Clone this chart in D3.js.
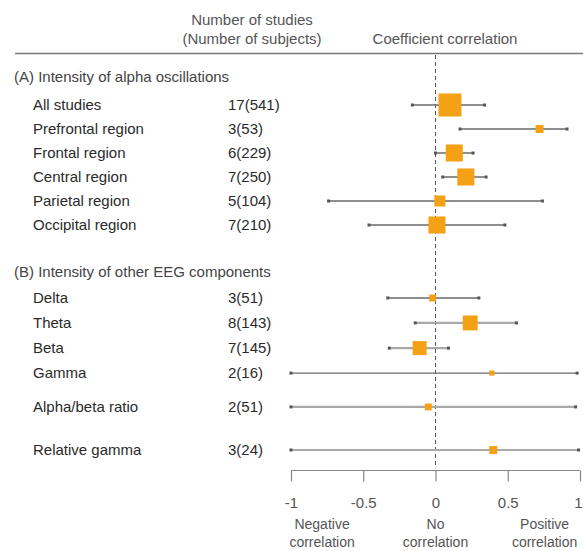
<!DOCTYPE html>
<html>
<head>
<meta charset="utf-8">
<script src="https://cdn.jsdelivr.net/npm/d3@7"></script>
<style>
  html, body { margin: 0; padding: 0; background: #fff; }
  svg text { font-family: "Liberation Sans", Arial, Helvetica, sans-serif; }
</style>
</head>
<body>
<svg id="chart" width="583" height="551"></svg>
<script>
// ---- data ----
const sections = ["(A) Intensity of alpha oscillations", "(B) Intensity of other EEG components"];
const labels = ["All studies", "Prefrontal region", "Frontal region", "Central region", "Parietal region", "Occipital region",
                "Delta", "Theta", "Beta", "Gamma", "Alpha/beta ratio", "Relative gamma"];
const sectionOf = [0, 0, 0, 0, 0, 0, 1, 1, 1, 1, 1, 1];
const studies  = [17, 3, 6, 7, 5, 7, 3, 8, 7, 2, 2, 3];
const subjects = [541, 53, 229, 250, 104, 210, 51, 143, 145, 16, 51, 24];
const estimate = [0.10, 0.72, 0.13, 0.21, 0.03, 0.01, -0.02, 0.24, -0.11, 0.39, -0.05, 0.40];
const lower    = [-0.16, 0.17, 0.00, 0.05, -0.74, -0.46, -0.33, -0.14, -0.32, -1.00, -1.00, -1.00];
const upper    = [0.34, 0.91, 0.26, 0.35, 0.74, 0.48, 0.30, 0.56, 0.09, 0.98, 0.97, 0.99];
const weight   = [100, 12, 55, 55, 23, 55, 9, 42, 37, 5, 9, 12];
const xTicks = [-1, -0.5, 0, 0.5, 1];
const xTickLabels = ["-1", "-0.5", "0", "0.5", "1"];
const zoneLabels = [["Negative", "correlation"], ["No", "correlation"], ["Positive", "correlation"]];
const zoneAt = [-0.785, 0, 0.755];

// ---- layout ----
const W = 583, H = 551;
const svg = d3.select("#chart");
const ORANGE = "#f4a116";
const TEXT = "#444";
const FS = 15;

// vertical slots (in row units) for section headings and rows
const sectionSlots = [-1.17, 6.96];
const rowSlots = [0, 1, 2, 3, 4, 5, 8.04, 9.08, 10.13, 11.17, 12.58, 14.375];
const y = d3.scaleLinear().domain([0, 1]).range([105, 129]);
const x = d3.scaleLinear().domain([-1, 1]).range([291, 580]);
const side = d3.scaleSqrt().domain([0, 100]).range([0, 23]);

const axisY = 470.5;

// column headers
const hdr = svg.append("g").attr("fill", "#555").attr("font-size", FS);
hdr.append("text").attr("x", 252).attr("y", 25).attr("text-anchor", "middle").text("Number of studies");
hdr.append("text").attr("x", 252).attr("y", 44).attr("text-anchor", "middle").text("(Number of subjects)");
hdr.append("text").attr("x", 445).attr("y", 44).attr("text-anchor", "middle").text("Coefficient correlation");
svg.append("line").attr("x1", 15).attr("x2", W).attr("y1", 53.5).attr("y2", 53.5)
  .attr("stroke", "#777").attr("stroke-width", 1.5);

// line of no effect
svg.append("line").attr("x1", x(0)).attr("x2", x(0)).attr("y1", 55).attr("y2", axisY - 2)
  .attr("stroke", "#555").attr("stroke-width", 1).attr("stroke-dasharray", "4,3");

// section headings
svg.append("g").selectAll("text").data(sections).join("text")
  .attr("x", 14).attr("y", (d, i) => y(sectionSlots[i]))
  .attr("dy", "0.35em").attr("font-size", FS).attr("fill", TEXT).text(d => d);

// row labels and counts
const rows = labels.map((label, i) => ({
  label, i, section: sectionOf[i], n: studies[i], subj: subjects[i],
  est: estimate[i], lo: lower[i], hi: upper[i], w: weight[i]
}));

svg.append("g").selectAll("text").data(rows).join("text")
  .attr("x", 33).attr("y", d => y(rowSlots[d.i])).attr("dy", "0.35em")
  .attr("font-size", FS).attr("fill", "#2a2a2a").text(d => d.label);

svg.append("g").selectAll("text").data(rows).join("text")
  .attr("x", 228).attr("y", d => y(rowSlots[d.i])).attr("dy", "0.35em")
  .attr("font-size", FS).attr("fill", "#2a2a2a").text(d => `${d.n}(${d.subj})`);

// confidence intervals: some rows drawn in a lighter, heavier grey
const lightCI = new Set(["Theta", "Beta", "Alpha/beta ratio", "Relative gamma"]);
const ci = svg.append("g");
ci.selectAll("line").data(rows).join("line")
  .attr("x1", d => x(d.lo)).attr("x2", d => x(d.hi))
  .attr("y1", d => y(rowSlots[d.i])).attr("y2", d => y(rowSlots[d.i]))
  .attr("stroke", d => lightCI.has(d.label) ? "#a9a9a9" : "#6a6a6a")
  .attr("stroke-width", d => lightCI.has(d.label) ? 2.2 : 1.4);
ci.selectAll("rect.end").data(rows.flatMap(d => [{v: d.lo, i: d.i}, {v: d.hi, i: d.i}])).join("rect")
  .attr("class", "end")
  .attr("x", d => x(d.v) - 1.5).attr("y", d => y(rowSlots[d.i]) - 1.5)
  .attr("width", 3).attr("height", 3).attr("fill", "#555");

// point estimates
svg.append("g").selectAll("rect").data(rows).join("rect")
  .attr("x", d => x(d.est) - side(d.w) / 2)
  .attr("y", d => y(rowSlots[d.i]) - side(d.w) / 2)
  .attr("width", d => side(d.w)).attr("height", d => side(d.w))
  .attr("fill", ORANGE);

// x axis
const axis = svg.append("g").attr("transform", `translate(0,${axisY})`)
  .call(d3.axisBottom(x).tickValues(xTicks).tickFormat((d, i) => xTickLabels[i]).tickSize(11).tickPadding(16));
axis.select(".domain").attr("stroke", "#888").attr("stroke-width", 1.2).attr("d", `M${x(-1)},0H${x(1)}`);
axis.selectAll(".tick line").attr("stroke", "#888").attr("stroke-width", 1.2);
axis.selectAll(".tick text").attr("font-size", FS).attr("fill", "#555")
  .attr("font-family", "Liberation Sans, Arial, sans-serif");
// keep the last tick label inside the right edge
axis.selectAll(".tick text").filter(d => d === 1).attr("text-anchor", "end").attr("dx", 2);

// interpretation under the axis
const zones = svg.append("g").attr("fill", "#555").attr("font-size", 14).attr("text-anchor", "middle");
zoneLabels.forEach((lines, k) => {
  lines.forEach((t, j) => {
    zones.append("text").attr("x", x(zoneAt[k])).attr("y", 529 + j * 18).text(t);
  });
});
</script>
</body>
</html>
